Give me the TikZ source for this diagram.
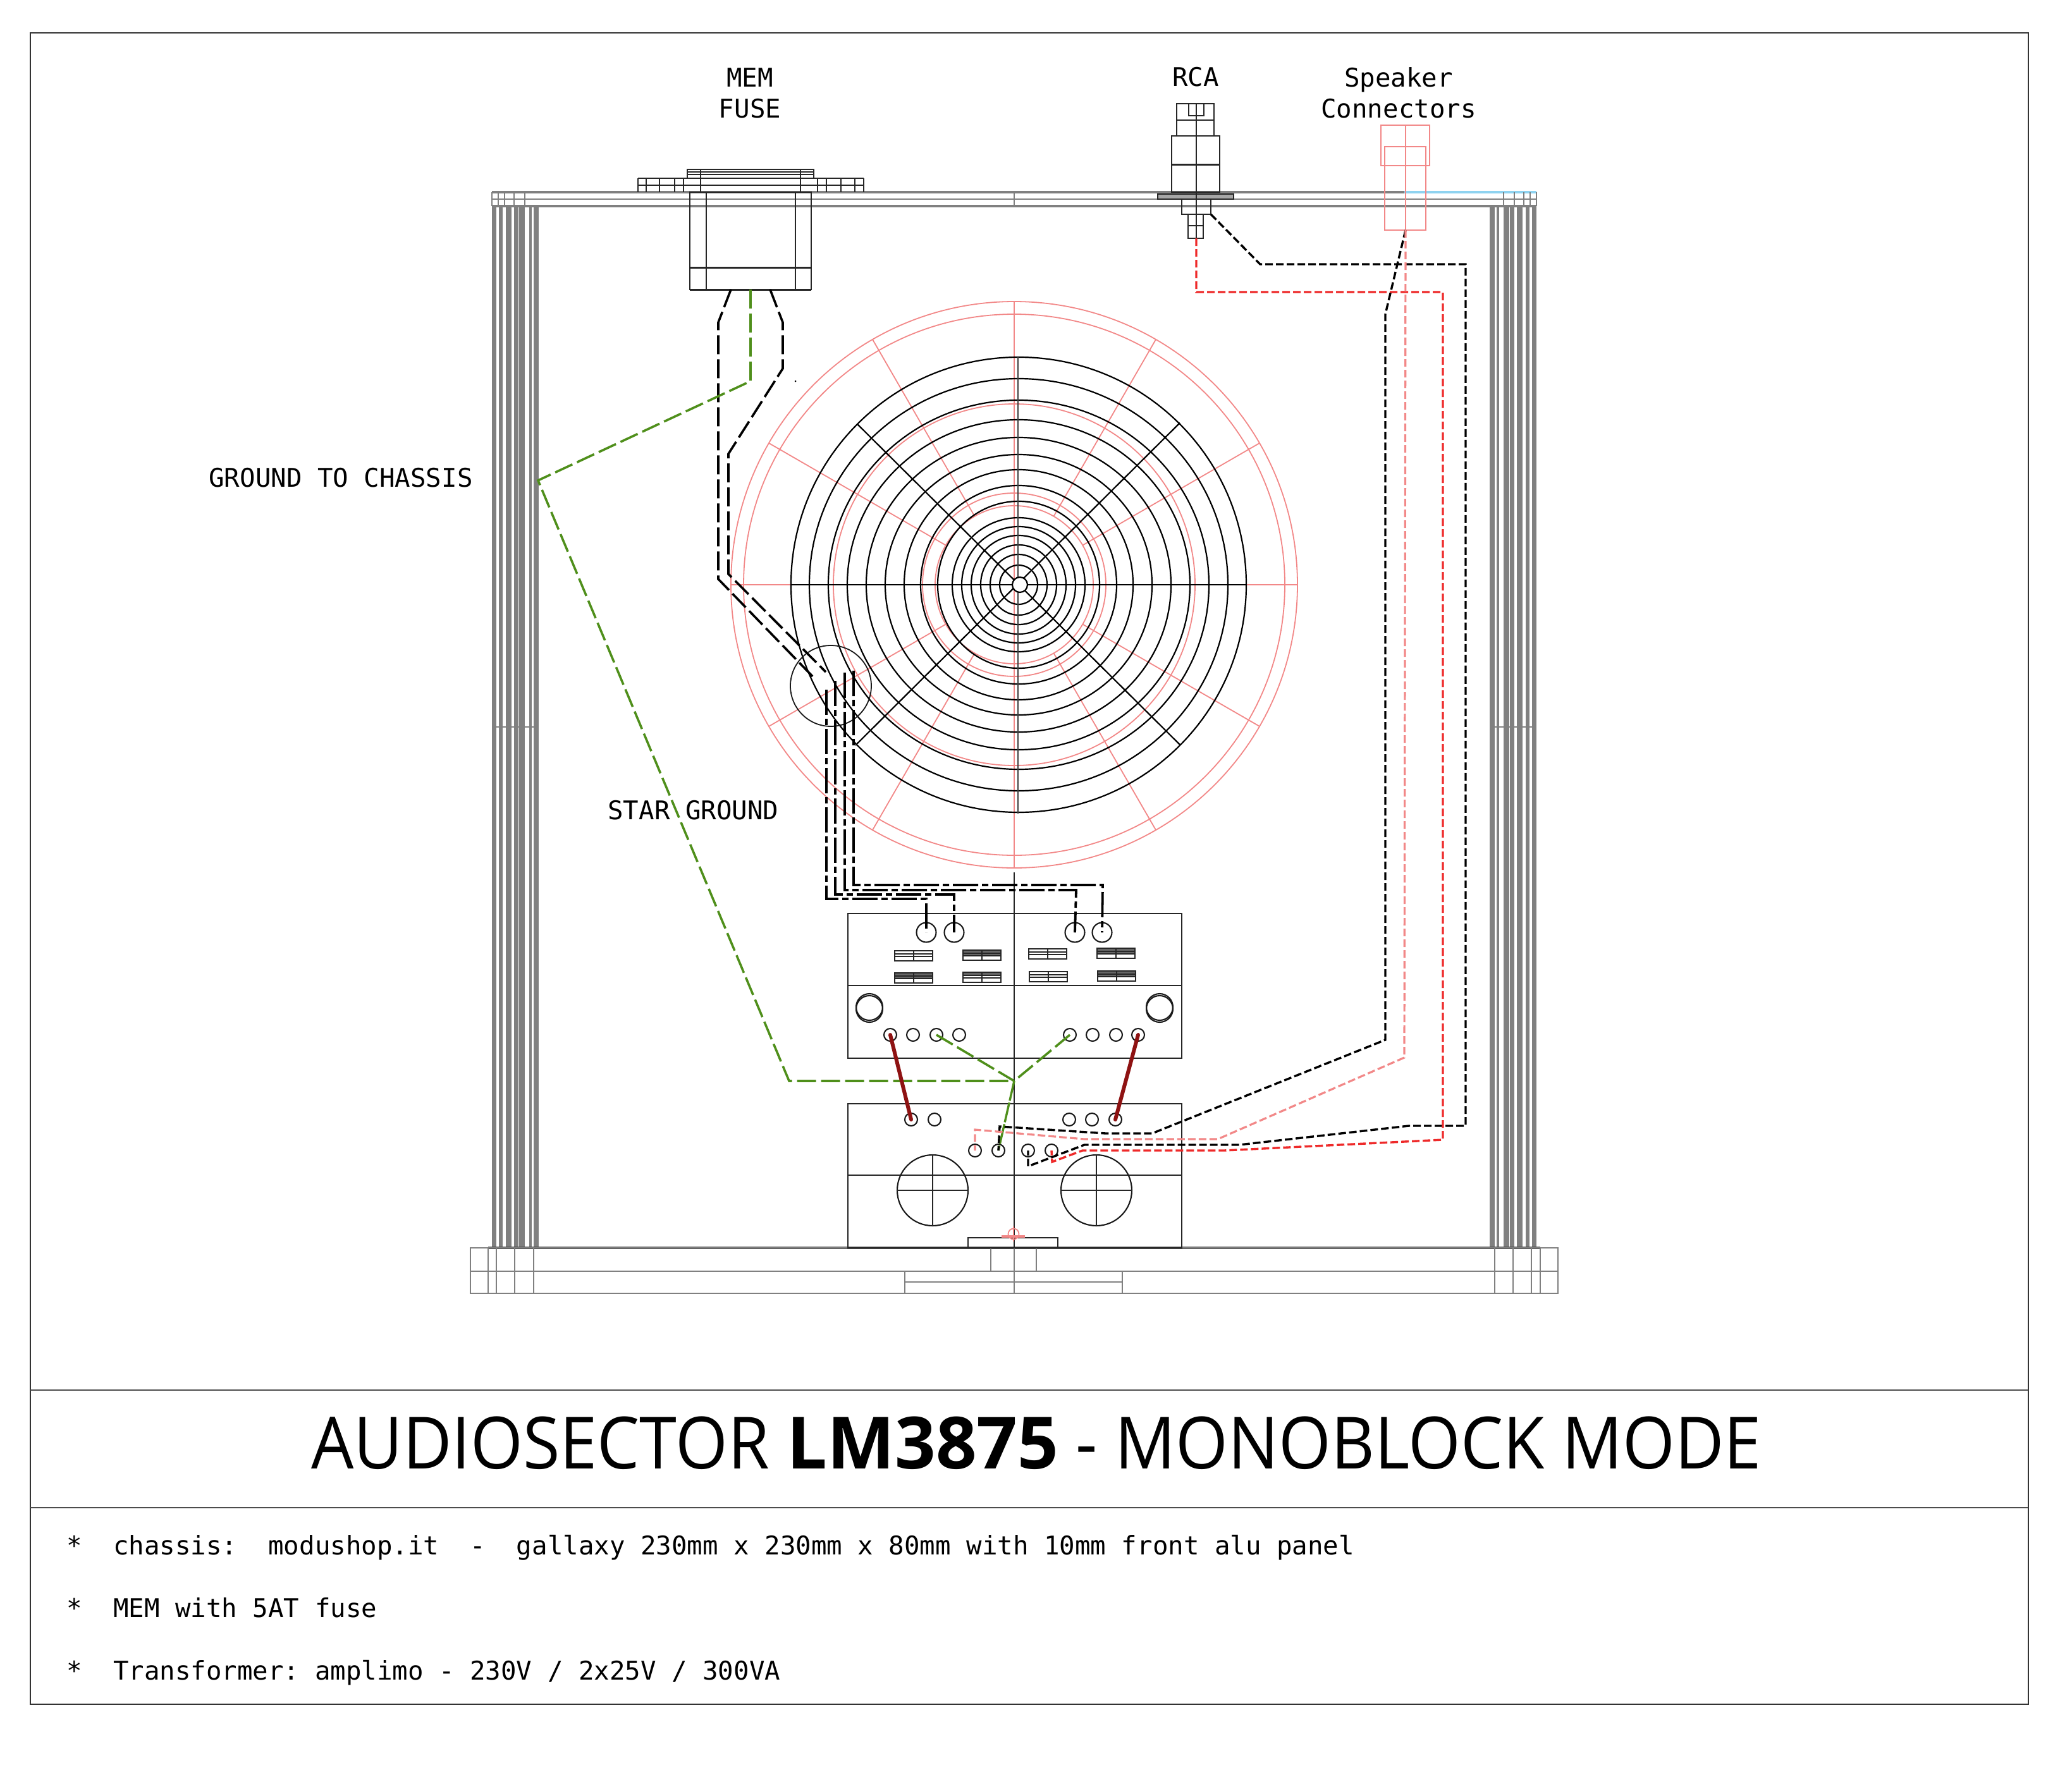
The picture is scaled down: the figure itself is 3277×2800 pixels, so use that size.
\documentclass[tikz,border=0pt]{standalone}
\usepackage{fontspec}
\newfontfamily\monofont{DejaVu Sans Mono}
\newfontfamily\titlefont{Open Sans}
\definecolor{pinkline}{HTML}{F28888}
\definecolor{redline}{HTML}{EE2A2A}
\definecolor{greenline}{HTML}{4F8F1B}
\definecolor{darkred}{HTML}{8E1212}
\definecolor{chassis}{HTML}{808080}
\definecolor{blueline}{HTML}{8FD3F0}
\tikzset{
  x=0.5pt, y=-0.5pt,
  part/.style={draw=black!85, line width=1.05pt},
  steel/.style={draw=chassis, line width=1.2pt},
  pinkpart/.style={draw=pinkline, line width=0.9pt},
  ring/.style={draw=black, line width=1.1pt},
  pad/.style={circle, draw=black!90, line width=1.05pt, minimum size=10pt, inner sep=0pt},
  fusecap/.style={circle, draw=black!90, line width=1.05pt, minimum size=21pt, inner sep=0pt},
  trafo/.style={circle, draw=black!90, line width=1.05pt, minimum size=56pt, inner sep=0pt},
  label/.style={font=\monofont\fontsize{20.38}{24.5}\selectfont, align=center, inner sep=0pt},
  note/.style={font=\monofont\fontsize{20.38}{24.5}\selectfont\frenchspacing, anchor=base west, inner sep=0pt},
  wire/.style={draw=black, line width=1.7pt, dash pattern=on 6pt off 2.5pt},
  bigwire/.style={draw=black, line width=1.8pt, dash pattern=on 15pt off 4pt},
  dcwire/.style={draw=black, line width=1.9pt, dash pattern=on 20pt off 3pt on 5pt off 3pt},
  redwire/.style={draw=redline, line width=1.7pt, dash pattern=on 6pt off 2.5pt},
  pinkwire/.style={draw=pinkline, line width=1.6pt, dash pattern=on 6pt off 2.5pt},
  greenwire/.style={draw=greenline, line width=1.8pt, dash pattern=on 15pt off 4pt},
  link/.style={draw=darkred, line width=3pt, line cap=round},
}
\begin{document}
\begin{tikzpicture}
\useasboundingbox (0,0) rectangle (3277,2800);
\draw [draw=black!80, line width=1.3pt] (48,52) rectangle (3208,2696);
\draw [draw=black!70, line width=1.1pt] (48,2199) -- (3208,2199);
\draw [draw=black!70, line width=1.1pt] (48,2385) -- (3208,2385);

\foreach \xa/\xb in {778/785, 789/795, 800/809, 813/820, 821/830, 837/841, 844/852,
                     2356/2364, 2367/2371, 2378/2387, 2388/2395, 2399/2408, 2413/2419, 2423/2430}
  \fill [chassis] (\xa,326) rectangle (\xb,1974);
\draw [steel, line width=0.8pt] (778,1150) -- (852,1150);
\draw [steel, line width=0.8pt] (2356,1150) -- (2430,1150);
\draw [steel, line width=1.7pt] (778,304) -- (2221,304);
\draw [draw=blueline, line width=1.7pt] (2221,304) -- (2430,304);
\draw [steel] (778,315) -- (2430,315);
\draw [steel, line width=1.7pt] (778,326) -- (2430,326);
\foreach \xa in {778,788,798,813,830,1604,2378,2395,2410,2420,2430}
  \draw [steel, line width=0.8pt] (\xa,304) -- (\xa,326);

\draw [draw=black!70, line width=2.4pt] (772,1974) -- (2436,1974);
\draw [steel] (744,1974) rectangle (2464,2046);
\draw [steel] (744,2011) -- (2464,2011);
\draw [steel] (1431,2028) -- (1775,2028);
\foreach \xa in {772,785,814,844,2364,2393,2422,2436}
  \draw [steel, line width=0.8pt] (\xa,1974) -- (\xa,2046);
\foreach \xa in {1567,1604,1639}
  \draw [steel, line width=0.8pt] (\xa,1974) -- (\xa,2011);
\foreach \xa in {1431,1604,1775}
  \draw [steel, line width=0.8pt] (\xa,2011) -- (\xa,2046);

\foreach \xa in {1009,1022,1043,1067,1081,1108,1266,1293,1307,1330,1352,1366}
  \draw [part] (\xa,282) -- (\xa,304);
\draw [part] (1009,282) -- (1366,282);
\draw [part] (1009,293) -- (1366,293);
\draw [part] (1087,268) rectangle (1287,282);
\draw [part] (1087,272) -- (1287,272);
\draw [part] (1087,276) -- (1287,276);
\draw [part] (1108,268) -- (1108,282);
\draw [part] (1266,268) -- (1266,282);
\draw [part] (1091,304) rectangle (1283,458);
\draw [part] (1117,304) -- (1117,458);
\draw [part] (1258,304) -- (1258,458);
\draw [part, line width=1.5pt] (1091,423) -- (1283,423);
\draw [part, line width=1.5pt] (1091,458) -- (1283,458);

\draw [part] (1861,164) rectangle (1920,215);
\draw [part] (1880,164) rectangle (1904,183);
\draw [part] (1861,190) -- (1920,190);
\draw [part] (1853,215) rectangle (1929,304);
\draw [part, line width=1.5pt] (1853,260) -- (1929,260);
\draw [part, fill=black!35] (1831,307) rectangle (1951,315);
\draw [part] (1869,315) rectangle (1915,339);
\draw [part] (1879,339) rectangle (1903,377);
\draw [part] (1879,357) -- (1903,357);
\draw [part] (1892,164) -- (1892,377);

\draw [pinkpart] (2184,198) rectangle (2261,262);
\draw [pinkpart] (2190,232) rectangle (2255,364);
\draw [pinkpart] (2223,198) -- (2223,364);

\foreach \rr in {448,428,286,145,125}
  \draw [pinkpart] (1604,925) circle [radius=\rr];
\draw [pinkpart] (1156,925) -- (2052,925);
\draw [pinkpart] (1604,477) -- (1604,1373);
\foreach \ang in {30,60,120,150,210,240,300,330}
  \draw [pinkpart, shift={(1604,925)}] (\ang:125) -- (\ang:448);

\foreach \rx/\ry in {360/360, 331/326, 301/292, 271/261, 241/233, 211/206, 181/182,
                     155/157, 128/132, 105/106, 90/92, 75/78, 60/63, 45/48, 30/31}
  \draw [ring] (1611,925) ellipse [x radius=\rx, y radius=\ry];
\draw [ring] (1250,925) -- (1971,925);
\draw [ring, draw=black!75, line width=1.2pt] (1610,565) -- (1610,1287);
\draw [ring] (1356,671) -- (1867,1179);
\draw [ring] (1866,669) -- (1353,1179);
\draw [ring, fill=white] (1613,925) circle [radius=12];
\fill [black] (1258,603) circle [radius=1.5];

\node (star) [circle, draw=black!90, line width=0.9pt, minimum size=64pt, inner sep=0pt] at (1314,1085) {};

\draw [part] (1341,1445) rectangle (1869,1674);
\draw [part] (1341,1559) -- (1869,1559);
\draw [part] (1341,1746) rectangle (1869,1974);
\draw [part] (1341,1859) -- (1869,1859);
\draw [part] (1604,1380) -- (1604,1974);
\draw [part] (1531,1974) |- (1673,1958) -- (1673,1974);

\foreach \fx/\fy/\ft in {1415/1504/0, 1523/1503/8, 1415/1539/8, 1523/1538/5,
                         1627/1501/0, 1735/1500/8, 1628/1537/0, 1736/1536/8} {
  \fill [black!60] (\fx,\fy) rectangle ++(60,\ft);
  \draw [part] (\fx,\fy) rectangle ++(60,16);
  \draw [part, line width=0.6pt] (\fx,\fy+5) -- ++(60,0);
  \draw [part, line width=0.6pt] (\fx,\fy+9) -- ++(60,0);
  \draw [part] (\fx+30,\fy) -- ++(0,16);
}

\foreach \nm/\xa in {A/1465, B/1509, C/1700, D/1743}
  \node [fusecap, minimum size=15.5pt] (cap\nm) at (\xa,1475) {};
\node [fusecap] (knobL) at (1375,1593) {};
\node [fusecap] at (1375,1596) {};
\node [fusecap] (knobR) at (1834,1593) {};
\node [fusecap] at (1834,1596) {};
\foreach \nm/\xa in {A/1408, B/1444, C/1481, D/1517, E/1692, F/1728, G/1765, H/1800}
  \node [pad] (amp\nm) at (\xa,1637) {};
\foreach \nm/\xa in {A/1441, B/1478, C/1691, D/1727, E/1764}
  \node [pad] (sec\nm) at (\xa,1771) {};
\foreach \nm/\xa in {A/1542, B/1579, C/1626, D/1663}
  \node [pad] (pri\nm) at (\xa,1820) {};

\node [trafo] (trafoL) at (1475,1883) {};
\node [trafo] (trafoR) at (1734,1883) {};
\draw [part] (trafoL.north) -- (trafoL.south);
\draw [part] (trafoL.west) -- (trafoL.east);
\draw [part] (trafoR.north) -- (trafoR.south);
\draw [part] (trafoR.west) -- (trafoR.east);

\draw [pinkpart] (1603,1952) circle [radius=8.5];
\draw [draw=pinkline, line width=1.6pt] (1584,1956) -- (1621,1956);
\draw [pinkpart] (1603,1940) -- (1603,1964);

\coordinate (fuseA) at (1156,458);
\coordinate (fuseB) at (1187,458);
\coordinate (fuseC) at (1218,458);
\coordinate (starA) at (1289,1074);
\coordinate (starB) at (1306,1063);
\coordinate (starC) at (1307,1091);
\coordinate (starD) at (1321,1077);
\coordinate (starE) at (1336,1064);
\coordinate (starF) at (1350,1061);
\coordinate (rcaA) at (1892,377);
\coordinate (rcaB) at (1915,339);
\coordinate (spkA) at (2223,364);
\coordinate (joint) at (1604,1710);

\draw [bigwire] (fuseA) -- (1136,510) -- (1136,916) -- (starA);
\draw [bigwire] (fuseC) -- (1238,510) -- (1238,583) -- (1152,718) -- (1152,908) -- (starB);
\draw [dcwire] (starC) -- (1307,1422) -- (1465,1422) -- (capA.center);
\draw [dcwire] (starD) -- (1321,1415) -- (1509,1415) -- (capB.center);
\draw [dcwire] (starE) -- (1336,1408) -- (1702,1408) -- (capC.center);
\draw [dcwire] (starF) -- (1350,1400) -- (1744,1400) -- (capD.center);

\draw [greenwire] (fuseB) -- (1187,603) -- (851,760) -- (1248,1710) -- (joint);
\draw [greenwire] (ampC.center) -- (joint);
\draw [greenwire] (ampE.center) -- (joint);
\draw [draw=greenline, line width=1.7pt, dash pattern=on 16pt off 1.5pt] (joint) -- (priB.center);

\draw [link] (ampA.center) -- (secA.center);
\draw [link] (ampH.center) -- (secE.center);

\draw [wire] (rcaB) -- (1993,418) -- (2318,418) -- (2318,1781) -- (2228,1781) -- (1960,1811) -- (1715,1811) -- (1626,1845) -- (priC.center);
\draw [redwire] (rcaA) -- (1892,462) -- (2282,462) -- (2282,1803) -- (1936,1820) -- (1712,1820) -- (1664,1838) -- (priD.center);
\draw [wire] (spkA) -- (2191,497) -- (2191,1645) -- (1822,1793) -- (1749,1793) -- (1581,1782) -- (priB.center);
\draw [pinkwire] (spkA) -- (2221,1673) -- (1926,1802) -- (1715,1802) -- (1542,1787) -- (priA.center);

\node (memlabel) [label] at (1186,147) {MEM\\FUSE};
\node (rcalabel) [label] at (1891,122) {RCA};
\node (spklabel) [label] at (2212,147) {Speaker\\Connectors};
\node (chassislabel) [label, anchor=west] at (330,756) {GROUND TO CHASSIS};
\node (starlabel) [label, anchor=west] at (961,1282) {STAR GROUND};

\node (title) [font=\titlefont\fontsize{57}{68}\selectfont, inner sep=0pt, anchor=base] at (1639,2323)
  {\scalebox{0.933}[1]{AUDIOSECTOR \scalebox{1.065}[1]{\textbf{LM3875}} - MONOBLOCK MODE}};

\node (noteA) [note] at (105,2459) {*~~chassis:~~modushop.it~~-~~gallaxy 230mm x 230mm x 80mm with 10mm front alu panel};
\node (noteB) [note] at (105,2558) {*~~MEM with 5AT fuse};
\node (noteC) [note] at (105,2657) {*~~Transformer: amplimo - 230V / 2x25V / 300VA};
\end{tikzpicture}
\end{document}
